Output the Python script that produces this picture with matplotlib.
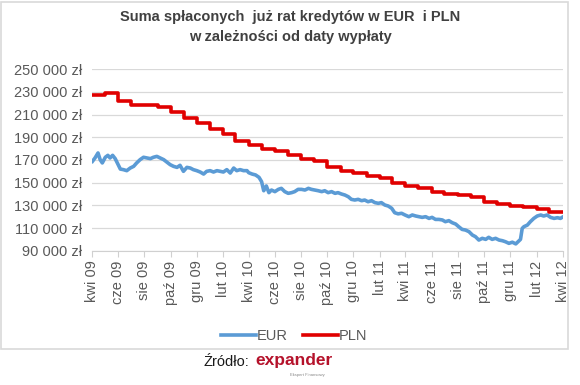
import pandas as pd
import matplotlib
matplotlib.use("Agg")
import matplotlib.pyplot as plt
from matplotlib.patches import Rectangle
from matplotlib.ticker import FuncFormatter

plt.rcParams["font.family"] = ["Liberation Sans", "DejaVu Sans"]

TITLE = ["Suma spłaconych  już rat kredytów w EUR  i PLN", "w zależności od daty wypłaty"]
MONTHS_PL = ["sty", "lut", "mar", "kwi", "maj", "cze", "lip", "sie", "wrz", "paź", "lis", "gru"]
START = pd.Timestamp("2009-04-01")
END = pd.Timestamp("2012-04-01")
Y_TICKS = [90000, 110000, 130000, 150000, 170000, 190000, 210000, 230000, 250000]

# PLN: one value per month, Apr 2009 .. Mar 2012
pln_months = pd.date_range("2009-04-01", "2012-03-01", freq="MS")
pln_values = [227600, 229400, 222000, 218500, 218300, 217000, 212000, 207300, 202400,
              197300, 193000, 186800, 183200, 179400, 178000, 174400, 170600, 169000,
              163600, 160600, 158300, 155900, 153900, 150000, 147400, 145000, 142000,
              140200, 138800, 137000, 132600, 130800, 129200, 128200, 127200, 123700]

# EUR: days since 2009-04-01 and values
eur_day = [1, 7, 14, 19, 24, 31, 37, 42, 48, 54, 60, 66, 73, 81, 89, 97, 104, 112, 120, 128,
           136, 143, 151, 159, 167, 174, 182, 190, 198, 205, 213, 221, 229, 236, 244, 252, 260,
           267, 275, 283, 291, 299, 306, 314, 322, 330, 337, 345, 353, 361, 365, 373, 381, 389,
           395, 400, 406, 412, 418, 426, 434, 441, 449, 457, 465, 472, 480, 488, 496, 504, 511,
           519, 527, 535, 542, 550, 558, 566, 573, 581, 589, 597, 604, 612, 620, 628, 635, 643,
           651, 659, 667, 674, 682, 690, 698, 705, 713, 721, 729, 738, 746, 754, 761, 769, 777,
           785, 792, 800, 808, 816, 823, 831, 839, 847, 854, 862, 870, 878, 886, 893, 901, 909,
           917, 924, 932, 940, 948, 956, 963, 971, 979, 987, 994, 998, 1002, 1006, 1014, 1021,
           1029, 1037, 1045, 1052, 1060, 1068, 1076, 1084, 1091, 1095]
eur_values = [168800, 171800, 176200, 170300, 167400, 172400, 174100, 171800, 174100, 171200,
              166500, 162000, 161500, 160600, 162900, 164400, 167400, 170300, 172400, 171800,
              171200, 172400, 173200, 171800, 170300, 168200, 165900, 164400, 163500, 165300,
              160000, 163500, 162900, 161500, 160600, 159400, 157600, 160000, 160600, 159400,
              160600, 160000, 159400, 161500, 158500, 162900, 160600, 161500, 160600, 160600,
              158800, 157600, 156800, 154700, 150900, 142900, 147100, 141200, 143500, 142100,
              144100, 145000, 142100, 140600, 141200, 142100, 144100, 144100, 143500, 145000,
              144100, 143500, 142900, 142100, 142900, 141200, 142100, 140600, 141200, 140000,
              139100, 137600, 135300, 134700, 135300, 134100, 134700, 133200, 134100, 132400,
              131800, 132400, 130300, 129400, 127400, 123500, 122500, 123000, 121500, 120000,
              121500, 120600, 120000, 119400, 120000, 118500, 119400, 117600, 117600, 117100,
              115600, 116500, 114700, 113500, 111200, 108800, 108200, 106800, 103800, 102400,
              99400, 100900, 100000, 101800, 100000, 100900, 99400, 98800, 97900, 96500,
              97500, 96000, 98500, 100000, 109700, 111200, 112600, 115600, 118500, 120600,
              121500, 120600, 121500, 119400, 118500, 119100, 118500, 119400]

EUR_COLOR = "#5b9bd5"
PLN_COLOR = "#e00000"
TEXT_COLOR = "#595959"

fig = plt.figure(figsize=(5.8, 3.85), dpi=100)
ax = fig.add_axes([92 / 580, 1 - 250.7 / 385, 471 / 580, 181.4 / 385])

eur_dates = START + pd.to_timedelta(eur_day, unit="D")
pln_dates = list(pln_months) + [END + pd.Timedelta(days=1)]
pln_plot = pln_values + [pln_values[-1]]

ax.plot(eur_dates, eur_values, color=EUR_COLOR, lw=2.6, label="EUR", solid_joinstyle="round")
ax.plot(pln_dates, pln_plot, color=PLN_COLOR, lw=2.6, drawstyle="steps-post", label="PLN")

ax.set_xlim(START, END + pd.Timedelta(days=1))
ax.set_ylim(Y_TICKS[0], Y_TICKS[-1])
ax.set_yticks(Y_TICKS)
ax.yaxis.set_major_formatter(FuncFormatter(lambda v, p: f"{int(v):,}".replace(",", " ") + " zł"))
ax.grid(axis="y", color="#d9d9d9", lw=0.9)
ax.set_axisbelow(True)

ticks = pd.date_range(START, END, freq="2MS")
ax.set_xticks(ticks)
ax.set_xticklabels([f"{MONTHS_PL[t.month - 1]} {t.year % 100:02d}" for t in ticks], rotation=90)

for s in ["top", "right", "left"]:
    ax.spines[s].set_visible(False)
ax.spines["bottom"].set_color("#d0d0d0")
ax.tick_params(axis="y", length=0, pad=7, labelsize=10.5, labelcolor=TEXT_COLOR)
ax.tick_params(axis="x", length=4, color="#d0d0d0", pad=3, labelsize=10.5, labelcolor=TEXT_COLOR)

fig.text(0.5, 1 - 17 / 385, TITLE[0], ha="center", va="center", fontsize=10.5,
         fontweight="bold", color="#404040")
fig.text(0.5, 1 - 37 / 385, TITLE[1], ha="center", va="center", fontsize=10.5,
         fontweight="bold", color="#404040")

ax.legend(loc="center", bbox_to_anchor=(294 / 580, 1 - 336 / 385), bbox_transform=fig.transFigure,
          ncol=2, frameon=False, fontsize=10.5, handlelength=2.4, handletextpad=0.1,
          columnspacing=1.0, labelcolor=TEXT_COLOR)

# chart frame
fig.patches.append(Rectangle((1 / 580, 1 - 349 / 385), 567 / 580, 347 / 385, fill=False,
                             edgecolor="#d9d9d9", lw=1.2, transform=fig.transFigure))

# source line
fig.text(203 / 580, 1 - 362 / 385, "Źródło:", ha="left", va="center", fontsize=10.5, color="#1a1a1a")
fig.text(255 / 580, 1 - 361 / 385, "expander", ha="left", va="center", fontsize=12.5,
         fontweight="bold", color="#b5122b")
fig.text(290 / 580, 1 - 375 / 385, "Ekspert Finansowy", ha="left", va="center", fontsize=3,
         color="#888888")

fig.savefig("out.png", dpi=100)
